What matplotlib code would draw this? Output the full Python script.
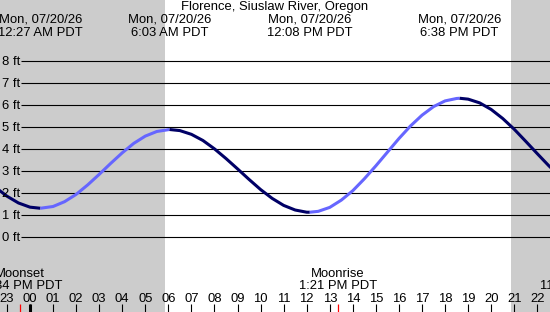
import matplotlib
matplotlib.use('Agg')
import matplotlib.pyplot as plt

plt.rcParams['font.family'] = ['Liberation Sans', 'DejaVu Sans']

title = 'Florence, Siuslaw River, Oregon'
date_label = 'Mon, 07/20/26'

# hours after midnight 07/20, tide height in ft
hours = [-1.5, -1.0, -0.5, 0.0, 0.45, 1.0, 1.5, 2.0, 2.5, 3.0, 3.5, 4.0, 4.5, 5.0, 5.5, 6.05,
         6.5, 7.0, 7.5, 8.0, 8.5, 9.0, 9.5, 10.0, 10.5, 11.0, 11.5, 12.0, 12.133,
         12.5, 13.0, 13.5, 14.0, 14.5, 15.0, 15.5, 16.0, 16.5, 17.0, 17.5, 18.0, 18.5, 18.633,
         19.0, 19.5, 20.0, 20.5, 21.0, 21.5, 22.0, 22.5, 23.0]
heights = [2.27, 1.87, 1.56, 1.37, 1.32, 1.40, 1.62, 1.95, 2.38, 2.86, 3.36, 3.84, 4.27, 4.60, 4.81, 4.90,
           4.85, 4.68, 4.40, 4.02, 3.58, 3.11, 2.63, 2.17, 1.77, 1.45, 1.24, 1.14, 1.14,
           1.18, 1.36, 1.69, 2.12, 2.66, 3.25, 3.87, 4.49, 5.06, 5.55, 5.94, 6.20, 6.31, 6.32,
           6.28, 6.11, 5.81, 5.40, 4.91, 4.36, 3.80, 3.25, 2.75]

tide_hours = [0.45, 6.05, 12.133, 18.633]
tide_times = ['12:27 AM PDT', '6:03 AM PDT', '12:08 PM PDT', '6:38 PM PDT']

sunrise = 5.85
sunset = 20.86

moon_hours = [-0.433, 13.35, 23.967]
moon_names = ['Moonset', 'Moonrise', 'Moonset']
moon_times = ['11:34 PM PDT', '1:21 PM PDT', '11:58 PM PDT']

hour_ticks = list(range(-1, 23))
hour_labels = ['23'] + ['%02d' % h for h in range(0, 23)]
ft_levels = list(range(0, 9))

# layout: 23.06 px per hour, midnight at x=30 px; 22 px per ft, 0 ft at y=237.3 px
PXH = 23.06
X0 = 30.0
PXF = 22.0
Y0 = 237.3
W, H = 550, 312
FS = 9.4


def row(ypx):
    return (Y0 - ypx) / PXF


def col(xpx):
    return (xpx - X0) / PXH


fig = plt.figure(figsize=(5.5, 3.12), dpi=100, facecolor='white')
ax = fig.add_axes([0, 0, 1, 1])
ax.set_xlim(col(0), col(W))
ax.set_ylim(row(H), row(0))
ax.set_axis_off()

dark = '#000066'
light = '#6666ff'
gray = '#cccccc'

ax.axvspan(col(-5), sunrise, color=gray, lw=0, zorder=0)
ax.axvspan(sunset, col(W + 5), color=gray, lw=0, zorder=0)

ax.hlines(ft_levels, col(21), col(W), color='black', lw=0.8, zorder=1)
for v in ft_levels:
    ax.text(col(2), v - 0.17, '%d ft' % v, fontsize=FS, ha='left', va='baseline', zorder=3)

# tide curve: rising light, falling dark
start = 0
for i in range(1, len(hours)):
    up = heights[i] > heights[i - 1]
    last = i == len(hours) - 1
    if last or (heights[i + 1] > heights[i]) != up:
        ax.plot(hours[start:i + 1], heights[start:i + 1], color=light if up else dark,
                lw=2.2, solid_capstyle='butt', zorder=2)
        start = i

ax.text(col(W / 2), row(10), title, fontsize=FS, ha='center', va='baseline')
for t, s in zip(tide_hours, tide_times):
    ax.text(t, row(23), date_label, fontsize=FS, ha='center', va='baseline')
    ax.text(t, row(36), s, fontsize=FS, ha='center', va='baseline')

for t, n, s in zip(moon_hours, moon_names, moon_times):
    ax.text(t, row(277.3), n, fontsize=FS, ha='center', va='baseline')
    ax.text(t, row(289.3), s, fontsize=FS, ha='center', va='baseline')

for t, lab in zip(hour_ticks, hour_labels):
    ax.text(t, row(301.7), lab, fontsize=FS, ha='center', va='baseline')
ax.vlines(hour_ticks, row(312), row(304), color='black', lw=0.8)
ax.vlines([0], row(312), row(304), color='black', lw=2.2)
ax.vlines(moon_hours, row(312), row(304), color='red', lw=0.9)

fig.savefig('out.png', dpi=100, facecolor='white')
